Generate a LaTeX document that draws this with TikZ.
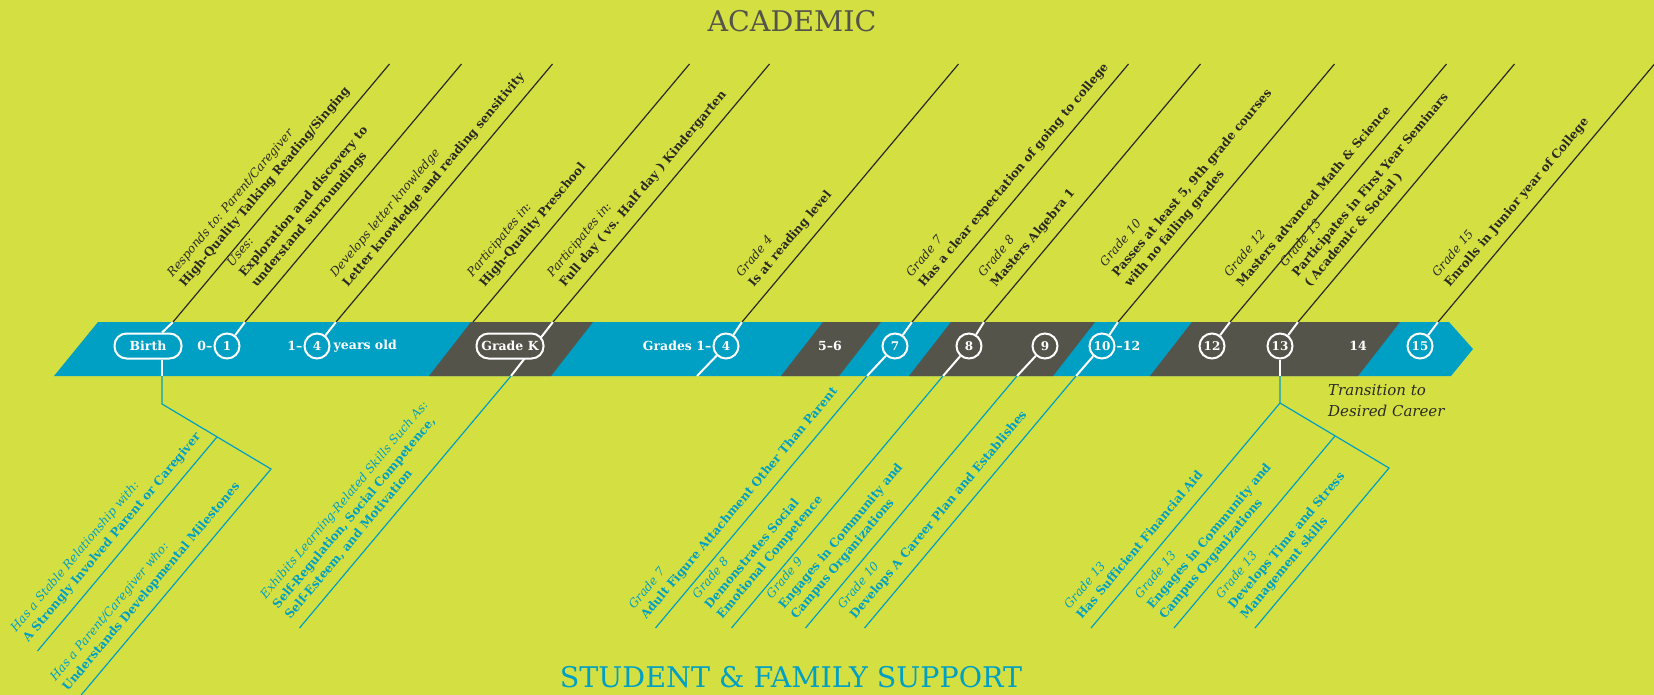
\documentclass[tikz,border=0pt]{standalone}
\usepackage{fontspec}
\setmainfont{DejaVu Serif}
\usetikzlibrary{positioning,calc}

\definecolor{lime}{HTML}{D4E042}
\definecolor{bandblue}{HTML}{009FC4}
\definecolor{bandgray}{HTML}{54544B}
\definecolor{ink}{HTML}{2A2A22}

\tikzset{
    stage/.style={circle, draw=white, line width=2pt, minimum size=25pt, inner sep=0pt, text=white, font=\bfseries\fontsize{12}{14}\selectfont},
    stagebox/.style={rounded corners=12pt, draw=white, line width=2pt, minimum height=25pt, minimum width=67pt, inner sep=0pt, text=white, font=\bfseries\fontsize{12.5}{14}\selectfont},
    bandtext/.style={inner sep=0pt, text=white, font=\bfseries\fontsize{12.5}{14}\selectfont},
    wline/.style={white, line width=2pt},
    aline/.style={ink, line width=1.2pt},
    sline/.style={bandblue, line width=1.2pt},
    alabel/.style={rotate=50, anchor=south west, inner sep=0pt, align=left, text depth=0pt, text=ink, font=\fontsize{12}{16}\selectfont},
    slabel/.style={alabel, text=bandblue},
}

\begin{document}
\begin{tikzpicture}[x=1pt, y=-1pt]
        \useasboundingbox (0, 0) rectangle (1654, 695);
        \clip (0, 0) rectangle (1654, 695);
        \fill[lime] (0, 0) rectangle (1654, 695);

        \fill[bandblue] (98, 322) -- (1449, 322) -- (1473, 349) -- (1451, 376) -- (54, 376) -- cycle;
        \fill[bandgray] (471, 322) -- (593, 322) -- (551, 376) -- (429, 376) -- cycle;
        \fill[bandgray] (823, 322) -- (881, 322) -- (839, 376) -- (781, 376) -- cycle;
        \fill[bandgray] (951, 322) -- (1095, 322) -- (1053, 376) -- (909, 376) -- cycle;
        \fill[bandgray] (1192, 322) -- (1400, 322) -- (1358, 376) -- (1150, 376) -- cycle;

        \node[anchor=base, text=bandgray, font=\fontsize{28.5}{30}\selectfont] (academic) at (792, 32) {ACADEMIC};
        \node[anchor=base, text=bandblue, font=\fontsize{28.5}{30}\selectfont] (support) at (791, 687) {STUDENT \& FAMILY SUPPORT};

        \coordinate (tBirth) at (173, 322);  \coordinate (eBirth) at (389.5, 64);
        \coordinate (t1) at (245, 322);      \coordinate (e1) at (461.5, 64);
        \coordinate (t4y) at (336, 322);     \coordinate (e4y) at (552.5, 64);
        \coordinate (tPre) at (473, 322);    \coordinate (ePre) at (689.5, 64);
        \coordinate (tK) at (553, 322);      \coordinate (eK) at (769.5, 64);
        \coordinate (t4) at (742, 322);      \coordinate (e4) at (958.5, 64);
        \coordinate (t7) at (912, 322);      \coordinate (e7) at (1128.5, 64);
        \coordinate (t8) at (984, 322);      \coordinate (e8) at (1200.5, 64);
        \coordinate (t10) at (1118, 322);    \coordinate (e10) at (1334.5, 64);
        \coordinate (t12) at (1230, 322);    \coordinate (e12) at (1446.5, 64);
        \coordinate (t13) at (1298, 322);    \coordinate (e13) at (1514.5, 64);
        \coordinate (t15) at (1438, 322);    \coordinate (e15) at (1654.5, 64);

        \coordinate (bK) at (511, 376);      \coordinate (sK) at (299.5, 628);
        \coordinate (b4) at (697, 376);
        \coordinate (b7) at (867, 376);      \coordinate (s7) at (655.5, 628);
        \coordinate (b8) at (943, 376);      \coordinate (s8) at (731.5, 628);
        \coordinate (b9) at (1017, 376);     \coordinate (s9) at (805.5, 628);
        \coordinate (b10) at (1076, 376);    \coordinate (s10) at (864.5, 628);

        \coordinate (bBirth) at (162, 376);  \coordinate (kBirth) at (162, 404);
        \coordinate (jBirth) at (217, 437);  \coordinate (cBirth) at (271, 469);
        \coordinate (sBirthA) at (37.5, 651); \coordinate (sBirthB) at (77, 700);

        \coordinate (b13) at (1280, 376);    \coordinate (k13) at (1280, 403);
        \coordinate (j13) at (1335, 436);    \coordinate (c13) at (1389, 468);
        \coordinate (s13A) at (1091, 628);   \coordinate (s13B) at (1174, 628);
        \coordinate (s13C) at (1255, 628);

        \draw[wline] (tK) -- (bK);

        \node[stagebox] (birth) at (148, 346) {Birth};
        \node[stagebox, fill=bandgray] (gradeK) at (510, 346) {Grade K};
        \node[stage] (n1) at (227, 346) {1};
        \node[stage] (n4y) at (317, 346) {4};
        \node[stage] (n4) at (726, 346) {4};
        \node[stage] (n7) at (895, 346) {7};
        \node[stage] (n8) at (969, 346) {8};
        \node[stage] (n9) at (1045, 346) {9};
        \node[stage] (n10) at (1102, 346) {10};
        \node[stage] (n12) at (1212, 346) {12};
        \node[stage] (n13) at (1280, 346) {13};
        \node[stage] (n15) at (1420, 346) {15};

        \node[bandtext, left=1pt of n1] (age0) {0--};
        \node[bandtext, left=1pt of n4y] (age1) {1--};
        \node[bandtext, right=3pt of n4y] (years) {years old};
        \node[bandtext, left=1pt of n4] (grades) {Grades 1--};
        \node[bandtext] (g56) at (830, 346) {5--6};
        \node[bandtext, right=1pt of n10] (g12) {--12};
        \node[bandtext] (g14) at (1358, 346) {14};

        \draw[wline] (tBirth) -- (birth);
        \draw[wline] (t1) -- (n1);
        \draw[wline] (t4y) -- (n4y);
        \draw[wline] (t4) -- (n4);
        \draw[wline] (t7) -- (n7);
        \draw[wline] (t8) -- (n8);
        \draw[wline] (t10) -- (n10);
        \draw[wline] (t12) -- (n12);
        \draw[wline] (t13) -- (n13);
        \draw[wline] (t15) -- (n15);

        \draw[aline] (tBirth) -- (eBirth);
        \draw[aline] (t1) -- (e1);
        \draw[aline] (t4y) -- (e4y);
        \draw[aline] (tPre) -- (ePre);
        \draw[aline] (tK) -- (eK);
        \draw[aline] (t4) -- (e4);
        \draw[aline] (t7) -- (e7);
        \draw[aline] (t8) -- (e8);
        \draw[aline] (t10) -- (e10);
        \draw[aline] (t12) -- (e12);
        \draw[aline] (t13) -- (e13);
        \draw[aline] (t15) -- (e15);

        \draw[wline] (n4) -- (b4);
        \draw[wline] (n7) -- (b7);
        \draw[wline] (n8) -- (b8);
        \draw[wline] (n9) -- (b9);
        \draw[wline] (n10) -- (b10);
        \draw[wline] (bBirth |- birth.south) -- (bBirth);
        \draw[wline] (n13) -- (b13);

        \draw[sline] (bK) -- (sK);
        \draw[sline] (b7) -- (s7);
        \draw[sline] (b8) -- (s8);
        \draw[sline] (b9) -- (s9);
        \draw[sline] (b10) -- (s10);
        \draw[sline] (bBirth) -- (kBirth) -- (cBirth) -- (sBirthB);
        \draw[sline] (jBirth) -- (sBirthA);
        \draw[sline] (b13) -- (k13) -- (c13) -- (s13C);
        \draw[sline] (k13) -- (s13A);
        \draw[sline] (j13) -- (s13B);

        \node[alabel] (lBirth) at ($(tBirth)+(12,-34)$) {\textit{Responds to: Parent/Caregiver}\\\textbf{High-Quality Talking Reading/Singing}};
        \node[alabel] (l1) at ($(t1)+(12,-34)$) {\textit{Uses:}\\\textbf{Exploration and discovery to}\\\textbf{understand surroundings}};
        \node[alabel] (l4y) at ($(t4y)+(12,-34)$) {\textit{Develops letter knowledge}\\\textbf{Letter knowledge and reading sensitivity}};
        \node[alabel] (lPre) at ($(tPre)+(12,-34)$) {\textit{Participates in:}\\\textbf{High-Quality Preschool}};
        \node[alabel] (lK) at ($(tK)+(12,-34)$) {\textit{Participates in:}\\\textbf{Full day ( vs. Half day ) Kindergarten}};
        \node[alabel] (l4) at ($(t4)+(12,-34)$) {\textit{Grade 4}\\\textbf{Is at reading level}};
        \node[alabel] (l7) at ($(t7)+(12,-34)$) {\textit{Grade 7}\\\textbf{Has a clear expectation of going to college}};
        \node[alabel] (l8) at ($(t8)+(12,-34)$) {\textit{Grade 8}\\\textbf{Masters Algebra 1}};
        \node[alabel] (l10) at ($(t10)+(12,-34)$) {\textit{Grade 10}\\\textbf{Passes at least 5, 9th grade courses}\\\textbf{with no failing grades}};
        \node[alabel] (l12) at ($(t12)+(12,-34)$) {\textit{Grade 12}\\\textbf{Masters advanced Math \& Science}};
        \node[alabel] (l13) at ($(t13)+(12,-34)$) {\textit{Grade 13}\\\textbf{Participates in First Year Seminars}\\\textbf{( Academic \& Social )}};
        \node[alabel] (l15) at ($(t15)+(12,-34)$) {\textit{Grade 15}\\\textbf{Enrolls in Junior year of College}};

        \node[slabel] (mBirthA) at ($(sBirthA)+(-9,-8)$) {\textit{Has a Stable Relationship with:}\\\textbf{A Strongly Involved Parent or Caregiver}};
        \node[slabel] (mBirthB) at ($(sBirthB)+(-9,-8)$) {\textit{Has a Parent/Caregiver who:}\\\textbf{Understands Developmental Milestones}};
        \node[slabel] (mK) at ($(sK)+(-9,-8)$) {\textit{Exhibits Learning-Related Skills Such As:}\\\textbf{Self-Regulation, Social Competence,}\\\textbf{Self-Esteem, and Motivation}};
        \node[slabel] (m7) at ($(s7)+(-9,-8)$) {\textit{Grade 7}\\\textbf{Adult Figure Attachment Other Than Parent}};
        \node[slabel] (m8) at ($(s8)+(-9,-8)$) {\textit{Grade 8}\\\textbf{Demonstrates Social}\\\textbf{Emotional Competence}};
        \node[slabel] (m9) at ($(s9)+(-9,-8)$) {\textit{Grade 9}\\\textbf{Engages in Community and}\\\textbf{Campus Organizations}};
        \node[slabel] (m10) at ($(s10)+(-9,-8)$) {\textit{Grade 10}\\\textbf{Develops A Career Plan and Establishes}};
        \node[slabel] (m13A) at ($(s13A)+(-9,-8)$) {\textit{Grade 13}\\\textbf{Has Sufficient Financial Aid}};
        \node[slabel] (m13B) at ($(s13B)+(-9,-8)$) {\textit{Grade 13}\\\textbf{Engages in Community and}\\\textbf{Campus Organizations}};
        \node[slabel] (m13C) at ($(s13C)+(-9,-8)$) {\textit{Grade 13}\\\textbf{Develops Time and Stress}\\\textbf{Management skills}};

        \node[anchor=north west, align=left, inner sep=0pt, text=ink, font=\itshape\fontsize{15}{21}\selectfont] (career) at (1328, 384) {Transition to\\Desired Career};

    \end{tikzpicture}
\end{document}
